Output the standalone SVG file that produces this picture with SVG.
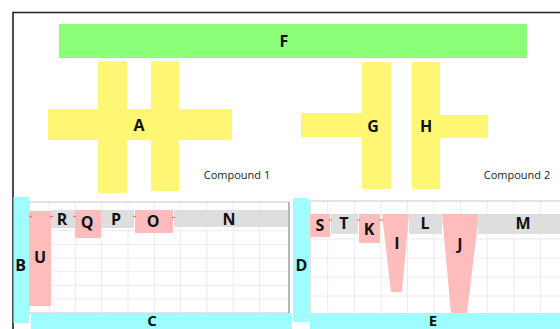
<svg xmlns="http://www.w3.org/2000/svg" width="560" height="329" viewBox="0 0 560 329">
<style>
.g{fill:#8cff78}
.y{fill:#fff673}
.c{fill:#9ffcff}
.p{fill:#ffbcbc}
.q{fill:#dedede}
.grid{stroke:#ececec;stroke-width:1;fill:none}
.lbl{font-family:"Open Sans","DejaVu Sans",sans-serif;font-weight:700;font-size:16px;fill:#111;text-anchor:middle;dominant-baseline:central}
.bot{font-size:15px}
.cap{font-family:"Open Sans","DejaVu Sans",sans-serif;font-size:11px;fill:#222;text-anchor:middle;dominant-baseline:central}
.tick{stroke:#ff6b6b;stroke-width:1.2}
</style>
<rect width="560" height="329" fill="#fff"/>
<path d="M13 329V12.5H560" fill="none" stroke="#222" stroke-width="1.6"/>
<g id="compound1">
<rect x="29" y="202" width="260" height="111" fill="#fff" stroke="#c8c8c8" stroke-width="1"/>
<path class="grid" d="M49 203V313M75.3 203V313M101.6 203V313M128 203V313M154.3 203V313M180.6 203V313M207 203V313M233.3 203V313M259.6 203V313M30 217H288M30 230.7H288M30 244.4H288M30 258H288M30 271.7H288M30 285.4H288M30 299H288"/>
<line x1="289" y1="202" x2="289" y2="313" stroke="#aaa" stroke-width="1.5"/>
<text class="cap" x="237" y="174">Compound 1</text>
</g>
<g id="compound2">
<rect x="310" y="201" width="260" height="120" fill="#fff" stroke="#c8c8c8" stroke-width="1"/>
<path class="grid" d="M327.7 202V313M354.3 202V313M381 202V313M407.5 202V313M434 202V313M460.7 202V313M487.3 202V313M514 202V313M540.5 202V313M311 220H560M311 239H560M311 258H560M311 277H560M311 296H560"/>
<text class="cap" x="517" y="174">Compound 2</text>
</g>
<g id="F"><rect class="g" x="59" y="24" width="468" height="34"/><text class="lbl" x="284" y="41">F</text></g>
<g id="A">
<rect class="y" x="48" y="109" width="184" height="31"/>
<rect class="y" x="98" y="61" width="29" height="132"/>
<rect class="y" x="151" y="61" width="28" height="130"/>
<text class="lbl" x="139" y="125">A</text>
</g>
<g id="G">
<rect class="y" x="301" y="113" width="62" height="24"/>
<rect class="y" x="362" y="62" width="29" height="127"/>
<text class="lbl" x="373" y="126">G</text>
</g>
<g id="H">
<rect class="y" x="412" y="62" width="28" height="127"/>
<rect class="y" x="439" y="115" width="49" height="23"/>
<text class="lbl" x="426" y="126">H</text>
</g>
<g id="B"><rect class="c" x="13.5" y="197" width="15.5" height="126"/><text class="lbl" x="20.5" y="265">B</text></g>
<g id="C"><rect class="c" x="31" y="313" width="261" height="16"/><text class="lbl bot" x="152" y="319.5">C</text></g>
<g id="D"><rect class="c" x="293" y="198" width="16" height="124"/><text class="lbl" x="301.5" y="265">D</text></g>
<g id="E"><rect class="c" x="310" y="313" width="250" height="16"/><text class="lbl bot" x="433" y="319.5">E</text></g>
<g id="U"><rect class="p" x="29" y="211" width="22" height="95"/><text class="lbl" x="40" y="257">U</text></g>
<g id="R"><rect class="q" x="51" y="210" width="24" height="18"/><text class="lbl" x="62" y="219">R</text></g>
<g id="Q"><rect class="p" x="75" y="210" width="26" height="28"/><text class="lbl" x="87" y="222">Q</text></g>
<g id="P"><rect class="q" x="101" y="210" width="33" height="18"/><text class="lbl" x="116" y="219">P</text></g>
<g id="O"><rect class="p" x="135" y="210" width="38" height="23"/><text class="lbl" x="153" y="221">O</text></g>
<g id="N"><rect class="q" x="174" y="210" width="114" height="17"/><text class="lbl" x="229" y="219">N</text></g>
<g id="S"><rect class="p" x="310" y="214" width="20" height="23"/><text class="lbl" x="320" y="225">S</text></g>
<g id="T"><rect class="q" x="331" y="214" width="27" height="20"/><text class="lbl" x="344" y="223">T</text></g>
<g id="K"><rect class="p" x="359" y="214" width="21" height="29"/><text class="lbl" x="369" y="229">K</text></g>
<g id="I"><path class="p" d="M382 214H409L402 292H391Z"/><text class="lbl" x="397" y="243">I</text></g>
<g id="L"><rect class="q" x="409" y="214" width="33" height="20"/><text class="lbl" x="425" y="223">L</text></g>
<g id="J"><path class="p" d="M442 214H479L467 313H451Z"/><text class="lbl" x="460" y="244">J</text></g>
<g id="M"><rect class="q" x="478" y="214" width="82" height="20"/><text class="lbl" x="523" y="223">M</text></g>
<g id="connectors">
<line class="tick" x1="29" y1="216.5" x2="32" y2="216.5"/>
<line class="tick" x1="50" y1="216.5" x2="53" y2="216.5"/>
<line class="tick" x1="73" y1="216.5" x2="76" y2="216.5"/>
<line class="tick" x1="133" y1="216.5" x2="136" y2="216.5"/>
<line class="tick" x1="172" y1="217.5" x2="175" y2="217.5"/>
<line class="tick" x1="329" y1="220" x2="332" y2="220"/>
<line class="tick" x1="357" y1="220" x2="360" y2="220"/>
<line class="tick" x1="379" y1="220" x2="383" y2="220"/>
</g>
</svg>
